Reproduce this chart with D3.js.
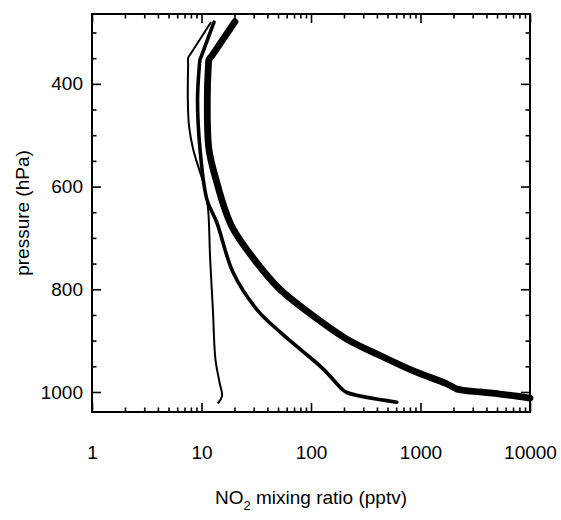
<!DOCTYPE html>
<html>
<head>
<meta charset="utf-8">
<script src="https://cdn.jsdelivr.net/npm/d3@7"></script>
<style>
  html, body { margin: 0; padding: 0; background: #fff; }
  svg text { font-family: "Liberation Sans", Arial, sans-serif; fill: #000; }
</style>
</head>
<body>
<svg id="chart" width="561" height="520"></svg>
<script>
// ---- data ----
const xMajorTicks = [1, 10, 100, 1000, 10000];
const yMajorTicks = [400, 600, 800, 1000];
const yMinorTicks = [300, 350, 450, 500, 550, 650, 700, 750, 850, 900, 950];

// thin profile
const thinPressure = [281, 340, 349, 362, 430, 483, 528, 606, 645, 742, 839, 936, 981, 1008, 1021];
const thinNO2      = [12.1, 8.05, 7.57, 7.55, 7.5, 7.7, 8.4, 10.8, 11.5, 12.0, 12.7, 13.4, 14.6, 15.4, 14.2];

// medium profile
const medPressure = [280, 344, 353, 366, 431, 528, 625, 670, 767, 839, 883, 916, 955, 994, 1001, 1020];
const medNO2      = [13.0, 10.06, 9.7, 9.55, 9.2, 9.7, 11.2, 13.8, 19.4, 31.9, 52, 79, 129, 191, 212, 607];

// thick profile
const thickPressure = [279, 344, 353, 366, 431, 528, 592, 645, 683, 748, 800, 852, 897, 929, 959, 984, 994, 1000, 1004, 1012];
const thickNO2      = [20.2, 12.56, 11.7, 11.55, 11.3, 11.7, 13.8, 16.4, 19.5, 31.9, 52, 105, 212, 427, 860, 1734, 2142, 3494, 5321, 10000];

// ---- layout ----
const mLeft = 92, mRight = 530, mTop = 14, mBottom = 412;
const svg = d3.select("#chart");

const x = d3.scaleLog().domain([1, 10000]).range([mLeft, mRight]);
const y = d3.scaleLinear().domain([264, 1039]).range([mTop, mBottom]);

const xMinorTicks = [];
for (let d = 1; d < 10000; d *= 10) for (let k = 2; k <= 9; k++) xMinorTicks.push(d * k);

const MAJ = 9, MIN = 4.5;

function styleAxis(g) {
  g.select(".domain").remove();
  g.selectAll(".tick line").attr("stroke", "#000").attr("stroke-width", 1.6);
  g.selectAll(".tick text").attr("font-size", 19);
}

// bottom axis
svg.append("g").attr("transform", `translate(0,${mBottom})`)
  .call(d3.axisBottom(x).tickValues(xMajorTicks).tickSize(-MAJ).tickPadding(34).tickFormat(d3.format("d")))
  .call(styleAxis);
svg.append("g").attr("transform", `translate(0,${mBottom})`)
  .call(d3.axisBottom(x).tickValues(xMinorTicks).tickSize(-MIN).tickFormat(""))
  .call(styleAxis);
// top axis
svg.append("g").attr("transform", `translate(0,${mTop})`)
  .call(d3.axisTop(x).tickValues(xMajorTicks).tickSize(-MAJ).tickFormat(""))
  .call(styleAxis);
svg.append("g").attr("transform", `translate(0,${mTop})`)
  .call(d3.axisTop(x).tickValues(xMinorTicks).tickSize(-MIN).tickFormat(""))
  .call(styleAxis);
// left axis
svg.append("g").attr("transform", `translate(${mLeft},0)`)
  .call(d3.axisLeft(y).tickValues(yMajorTicks).tickSize(-MAJ).tickPadding(9).tickFormat(d3.format("d")))
  .call(styleAxis);
svg.append("g").attr("transform", `translate(${mLeft},0)`)
  .call(d3.axisLeft(y).tickValues(yMinorTicks).tickSize(-MIN).tickFormat(""))
  .call(styleAxis);
// right axis
svg.append("g").attr("transform", `translate(${mRight},0)`)
  .call(d3.axisRight(y).tickValues(yMajorTicks).tickSize(-MAJ).tickFormat(""))
  .call(styleAxis);
svg.append("g").attr("transform", `translate(${mRight},0)`)
  .call(d3.axisRight(y).tickValues(yMinorTicks).tickSize(-MIN).tickFormat(""))
  .call(styleAxis);

// frame
svg.append("rect")
  .attr("x", mLeft).attr("y", mTop)
  .attr("width", mRight - mLeft).attr("height", mBottom - mTop)
  .attr("fill", "none").attr("stroke", "#000").attr("stroke-width", 2);

// profiles
const line = d3.line()
  .x(d => x(d[0])).y(d => y(d[1]))
  .curve(d3.curveCatmullRom.alpha(0.5));
const series = [
  { v: thinNO2,  p: thinPressure,  w: 2 },
  { v: medNO2,   p: medPressure,   w: 3.6 },
  { v: thickNO2, p: thickPressure, w: 6.8 }
];
series.forEach(s => {
  svg.append("path")
    .datum(s.v.map((v, i) => [v, s.p[i]]))
    .attr("d", line)
    .attr("fill", "none")
    .attr("stroke", "#000")
    .attr("stroke-width", s.w)
    .attr("stroke-linejoin", "round")
    .attr("stroke-linecap", "round");
});

// axis titles
const xt = svg.append("text")
  .attr("x", (mLeft + mRight) / 2).attr("y", 504)
  .attr("text-anchor", "middle").attr("font-size", 19);
xt.append("tspan").text("NO");
xt.append("tspan").text("2").attr("font-size", 13).attr("dy", 6);
xt.append("tspan").text(" mixing ratio (pptv)").attr("dy", -6);

svg.append("text")
  .attr("transform", `translate(29,${(mTop + mBottom) / 2}) rotate(-90)`)
  .attr("text-anchor", "middle").attr("font-size", 19)
  .text("pressure (hPa)");
</script>
</body>
</html>
